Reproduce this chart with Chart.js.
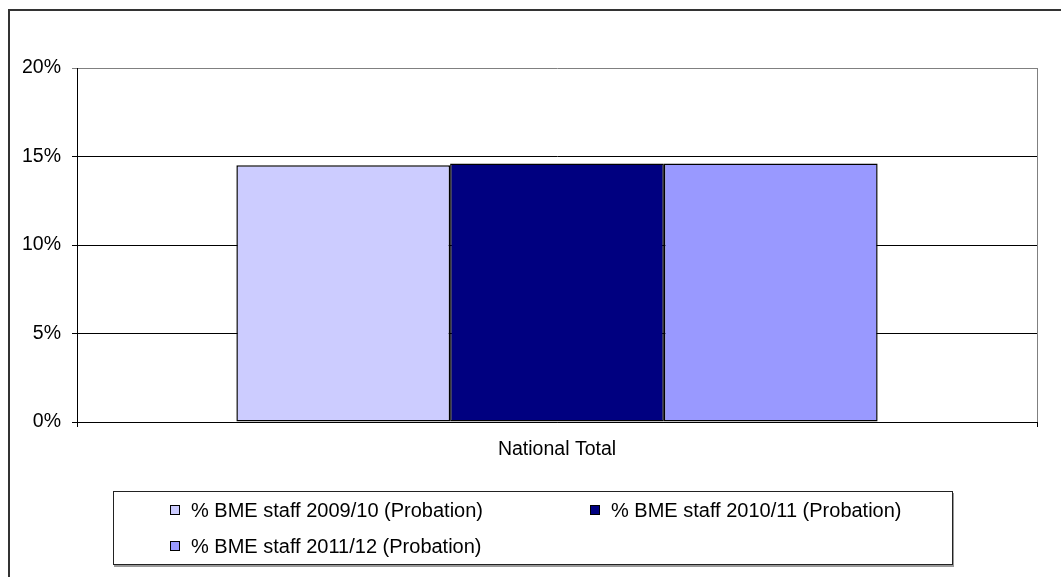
<!DOCTYPE html>
<html>
<head>
<meta charset="utf-8">
<script src="https://cdn.jsdelivr.net/npm/chart.js@4.4.1/dist/chart.umd.min.js"></script>
<style>
    body { margin: 0; background: #fff; font-family: "Liberation Sans", Arial, sans-serif; }
    #wrap { position: relative; width: 1061px; height: 577px; overflow: hidden; }
    #frame { position: absolute; left: 8px; top: 9px; width: 1100px; height: 700px;
             border-left: 2px solid #333; border-top: 2px solid #333; }
    canvas { position: absolute; left: 0; top: 0; }
    #legend { position: absolute; left: 113px; top: 491px; width: 840px; height: 74px;
              border: 1px solid #222; box-shadow: 1px 2px 0 #999; background: #fff;
              display: grid; grid-template-columns: 420px 420px; grid-auto-rows: 36px;
              padding-left: 56px; box-sizing: border-box; }
    .item { display: flex; align-items: center; font-size: 20px; color: #000; white-space: nowrap; }
    .swatch { width: 8px; height: 8px; border: 1px solid #000; margin-right: 11px; }
</style>
</head>
<body>
<div id="wrap">
    <div id="frame"></div>
    <canvas id="chart" width="1061" height="577"></canvas>
    <div id="legend"></div>
</div>
<script>
    // Values
    const categories = ['National Total'];
    const seriesLabels = [
        '% BME staff 2009/10 (Probation)',
        '% BME staff 2010/11 (Probation)',
        '% BME staff 2011/12 (Probation)'
    ];
    const values0910 = [14.5];
    const values1011 = [14.6];
    const values1112 = [14.6];
    const seriesColors = ['#CCCCFF', '#000080', '#9999FF'];
    const yTicks = [0, 5, 10, 15, 20];

    const seriesValues = [values0910, values1011, values1112];

    // Gray plot-area frame on the right
    const frameRight = {
        id: 'frameRight',
        afterDraw(chart) {
            const a = chart.chartArea;
            const c = chart.ctx;
            c.save();
            c.strokeStyle = '#808080';
            c.lineWidth = 1;
            c.beginPath();
            c.moveTo(Math.round(a.right) + 0.5, a.top);
            c.lineTo(Math.round(a.right) + 0.5, a.bottom);
            c.stroke();
            c.restore();
        }
    };

    Chart.defaults.font.family = '"Liberation Sans", Arial, sans-serif';
    Chart.defaults.font.size = 19;
    Chart.defaults.color = '#000';

    new Chart(document.getElementById('chart'), {
        type: 'bar',
        data: {
            labels: categories,
            datasets: seriesLabels.map((label, i) => ({
                label: label,
                data: seriesValues[i],
                backgroundColor: seriesColors[i],
                borderColor: '#000',
                borderWidth: 1.5,
                borderSkipped: false,
                categoryPercentage: 0.668,
                barPercentage: 1
            }))
        },
        options: {
            responsive: false,
            devicePixelRatio: 1,
            animation: false,
            layout: { padding: { top: 68, right: 24, left: 0, bottom: 0 } },
            plugins: {
                legend: { display: false },
                tooltip: { enabled: false }
            },
            scales: {
                x: {
                    offset: true,
                    grid: { display: true, drawOnChartArea: false, offset: true, tickLength: 5, color: '#000' },
                    border: { color: '#000', width: 1 },
                    ticks: { padding: 11, maxRotation: 0, font: { size: 19.5 } },
                    afterFit(scale) { scale.height = 155; }
                },
                y: {
                    min: yTicks[0],
                    max: yTicks[yTicks.length - 1],
                    afterBuildTicks(scale) { scale.ticks = yTicks.map(v => ({ value: v })); },
                    grid: {
                        color: ctx => (ctx.tick && ctx.tick.value === 20) ? '#808080' : '#000',
                        tickLength: 5
                    },
                    border: { color: '#000', width: 1 },
                    ticks: { padding: 11, callback: v => v + '%', font: { size: 19.5 } },
                    afterFit(scale) { scale.width = 77; }
                }
            }
        },
        plugins: [frameRight]
    });

    // HTML legend in two columns, like the original
    document.getElementById('legend').innerHTML = seriesLabels.map((label, i) => `
        <div class="item"><span class="swatch" style="background:${seriesColors[i]}"></span>${label}</div>
    `).join('');
</script>
</body>
</html>
